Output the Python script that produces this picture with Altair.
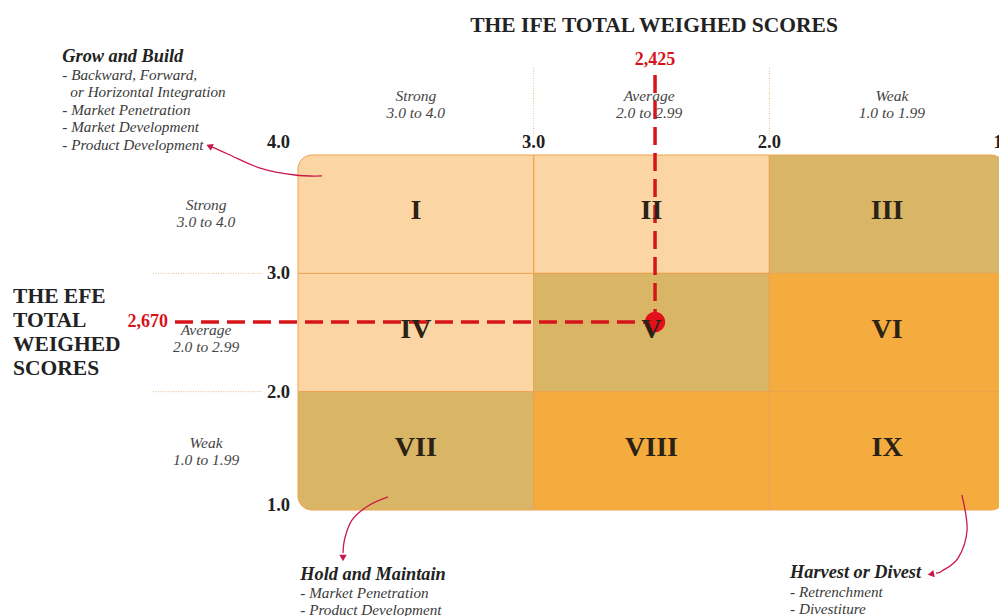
import altair as alt
import pandas as pd

# ---------------- data ----------------
# IE matrix cells (IFE on x, reversed 4 -> 1 ; EFE on y)
cell_roman = ["I", "II", "III", "IV", "V", "VI", "VII", "VIII", "IX"]
cell_ife_hi = [4, 3, 2, 4, 3, 2, 4, 3, 2]
cell_ife_lo = [3, 2, 1, 3, 2, 1, 3, 2, 1]
cell_efe_hi = [4, 4, 4, 3, 3, 3, 2, 2, 2]
cell_efe_lo = [3, 3, 3, 2, 2, 2, 1, 1, 1]
cell_zone = ["grow", "grow", "hold", "grow", "hold", "harvest", "hold", "harvest", "harvest"]

zone_names = ["grow", "hold", "harvest"]
zone_colors = ["#FBD6A4", "#D9B666", "#F5AC3E"]

# company position (as drawn) and its labels
ife_score = [2.485]
efe_score = [2.589]
ife_label = ["2,425"]
efe_label = ["2,670"]
guide_start_efe = [4.676]   # top end of vertical dashed guide
guide_start_ife = [4.522]   # left end of horizontal dashed guide

# tick labels
top_tick_text = ["4.0", "3.0", "2.0", "1.0"]
top_tick_pos = [4.083, 3.0, 2.0, 1.0]
left_tick_text = ["3.0", "2.0", "1.0"]
left_tick_pos = [3.0, 2.0, 1.04]

# band labels (position of first line)
band_text = ["Strong\n3.0 to 4.0", "Average\n2.0 to 2.99", "Weak\n1.0 to 1.99"]
col_band_pos = [3.5, 2.51, 1.48]
row_band_pos = [3.577, 2.521, 1.566]

# titles
top_title = ["THE IFE TOTAL WEIGHED SCORES"]
left_title = ["THE EFE\nTOTAL\nWEIGHED\nSCORES"]

# strategy annotations
ann_head = ["Grow and Build", "Hold and Maintain", "Harvest or Divest"]
ann_head_x = [5.0, 3.99, 1.912]
ann_head_y = [4.828, 0.451, 0.468]
ann_body = [
    "- Backward, Forward,",
    "or Horizontal Integration",
    "- Market Penetration\n- Market Development\n- Product Development",
    "- Market Penetration\n- Product Development",
    "- Retrenchment\n- Divestiture",
]
ann_body_x = [5.0, 4.966, 5.0, 3.99, 1.912]
ann_body_y = [4.676, 4.529, 4.382, 0.298, 0.307]

# curved arrows (annotation connectors)
arrow_id = ["g"] * 5 + ["h"] * 5 + ["d"] * 5
arrow_ord = [0, 1, 2, 3, 4] * 3
arrow_x = [3.898, 4.013, 4.161, 4.289, 4.365,
           3.618, 3.703, 3.771, 3.801, 3.809,
           1.183, 1.161, 1.199, 1.267, 1.293]
arrow_y = [3.823, 3.831, 3.890, 4.000, 4.068,
           1.110, 1.034, 0.915, 0.763, 0.637,
           1.127, 0.831, 0.594, 0.485, 0.468]
head_x = [4.372, 3.809, 1.310]
head_y = [4.072, 0.603, 0.459]
head_angle = [294, 180, 259]

# ---------------- tables ----------------
cells = pd.DataFrame({
    "roman": cell_roman, "x": cell_ife_hi, "x2": cell_ife_lo,
    "y": cell_efe_hi, "y2": cell_efe_lo, "zone": cell_zone,
})
cells["cx"] = (cells["x"] + cells["x2"]) / 2
cells["cy"] = (cells["y"] + cells["y2"]) / 2

pos = pd.DataFrame({"ife": ife_score, "efe": efe_score, "ife_label": ife_label,
                    "efe_label": efe_label, "top": guide_start_efe, "left": guide_start_ife})

FONT = "Liberation Serif"
xs = alt.Scale(domain=[4, 1], range=[0, 707], nice=False, zero=False)
ys = alt.Scale(domain=[1, 4], nice=False, zero=False)
X = lambda f: alt.X(f, type="quantitative", scale=xs, axis=None)
Y = lambda f: alt.Y(f, type="quantitative", scale=ys, axis=None)
color = alt.Color("zone:N", scale=alt.Scale(domain=zone_names, range=zone_colors), legend=None)

R = 14


def cell_layer(names, **corner):
    return (alt.Chart(cells)
            .transform_filter(alt.FieldOneOfPredicate(field="roman", oneOf=names))
            .mark_rect(stroke="#EFA24F", strokeWidth=1, **corner)
            .encode(x=X("x"), x2="x2", y=Y("y"), y2="y2", color=color))


layers = [
    cell_layer(["II", "IV", "V", "VI", "VIII"]),
    cell_layer(["I"], cornerRadiusTopLeft=R),
    cell_layer(["III"], cornerRadiusTopRight=R),
    cell_layer(["VII"], cornerRadiusBottomLeft=R),
    cell_layer(["IX"], cornerRadiusBottomRight=R),
]

# dotted separators outside the grid
vsep = pd.DataFrame({"x": [3, 2], "y": [4.735] * 2, "y2": [4.144] * 2})
hsep = pd.DataFrame({"y": [3, 2], "x": [4.615] * 2, "x2": [4.153] * 2})
layers.append(alt.Chart(vsep).mark_rule(color="#E9B88A", strokeDash=[1, 1.5], strokeWidth=1)
              .encode(x=X("x"), y=Y("y"), y2="y2"))
layers.append(alt.Chart(hsep).mark_rule(color="#E9B88A", strokeDash=[1, 1.5], strokeWidth=1)
              .encode(y=Y("y"), x=X("x"), x2="x2"))

RED = "#D7141A"
# dashed guides
layers.append(alt.Chart(pos).mark_rule(color=RED, strokeDash=[18, 8], strokeWidth=3.5)
              .encode(x=X("ife"), y=Y("top"), y2="efe"))
layers.append(alt.Chart(pos).mark_rule(color=RED, strokeDash=[18, 8], strokeWidth=3.5)
              .encode(y=Y("efe"), x=X("left"), x2="ife"))
layers.append(alt.Chart(pos).mark_point(filled=True, color="#E3101C", size=420, opacity=1)
              .encode(x=X("ife"), y=Y("efe")))

# roman numerals
layers.append(alt.Chart(cells).mark_text(font=FONT, fontSize=28, fontWeight="bold", color="#2B2216",
                                         dy=-3, baseline="middle")
              .encode(x=X("cx"), y=Y("cy"), text="roman:N"))

# red value labels
layers.append(alt.Chart(pos).transform_calculate(yy="4.803").mark_text(
    font=FONT, fontSize=18, fontWeight="bold", color=RED, baseline="middle")
    .encode(x=X("ife"), y=Y("yy"), text="ife_label:N"))
layers.append(alt.Chart(pos).transform_calculate(xx="4.552").mark_text(
    font=FONT, fontSize=18, fontWeight="bold", color=RED, baseline="middle", align="right")
    .encode(x=X("xx"), y=Y("efe"), text="efe_label:N"))

# tick labels
top_ticks = pd.DataFrame({"t": top_tick_text, "x": top_tick_pos, "y": [4.11] * 4})
left_ticks = pd.DataFrame({"t": left_tick_text, "y": left_tick_pos, "x": [4.083] * 3})
for df in (top_ticks, left_ticks):
    layers.append(alt.Chart(df).mark_text(font=FONT, fontSize=18.5, fontWeight="bold", color="#222222",
                                          baseline="middle")
                  .encode(x=X("x"), y=Y("y"), text="t:N"))

# band labels
col_bands = pd.DataFrame({"t": band_text, "x": col_band_pos, "y": [4.499] * 3})
row_bands = pd.DataFrame({"t": band_text, "y": row_band_pos, "x": [4.39] * 3})
for df in (col_bands, row_bands):
    layers.append(alt.Chart(df).mark_text(font=FONT, fontSize=15.5, fontStyle="italic", color="#444444",
                                          baseline="middle", lineBreak="\n", lineHeight=17)
                  .encode(x=X("x"), y=Y("y"), text="t:N"))

# titles
tt = pd.DataFrame({"t": top_title, "x": [2.489], "y": [5.09]})
lt = pd.DataFrame({"t": left_title, "x": [5.209], "y": [2.800]})
layers.append(alt.Chart(tt).mark_text(font=FONT, fontSize=21.5, fontWeight="bold", color="#222222",
                                      baseline="middle")
              .encode(x=X("x"), y=Y("y"), text="t:N"))
layers.append(alt.Chart(lt).mark_text(font=FONT, fontSize=21.5, fontWeight="bold", color="#222222",
                                      baseline="middle", align="left", lineBreak="\n", lineHeight=24)
              .encode(x=X("x"), y=Y("y"), text="t:N"))

# strategy annotations
ah = pd.DataFrame({"t": ann_head, "x": ann_head_x, "y": ann_head_y})
ab = pd.DataFrame({"t": ann_body, "x": ann_body_x, "y": ann_body_y})
layers.append(alt.Chart(ah).mark_text(font=FONT, fontSize=18.3, fontWeight="bold", fontStyle="italic",
                                      color="#222222", baseline="middle", align="left")
              .encode(x=X("x"), y=Y("y"), text="t:N"))
layers.append(alt.Chart(ab).mark_text(font=FONT, fontSize=15.2, fontStyle="italic", color="#3A3A3A",
                                      baseline="middle", align="left", lineBreak="\n", lineHeight=17.4)
              .encode(x=X("x"), y=Y("y"), text="t:N"))

# connectors
arr = pd.DataFrame({"id": arrow_id, "o": arrow_ord, "x": arrow_x, "y": arrow_y})
heads = pd.DataFrame({"x": head_x, "y": head_y, "a": head_angle})
CRIMSON = "#C8194C"
layers.append(alt.Chart(arr).mark_line(color=CRIMSON, strokeWidth=1.3, interpolate="cardinal")
              .encode(x=X("x"), y=Y("y"), detail="id:N", order="o:Q"))
layers.append(alt.Chart(heads).mark_point(shape="triangle", filled=True, color=CRIMSON, size=55, opacity=1)
              .encode(x=X("x"), y=Y("y"), angle=alt.Angle("a:Q", scale=None)))

chart = alt.layer(*layers).properties(
    width=701, height=355,
    padding={"left": 290, "top": 147, "right": 0, "bottom": 106},
    autosize=alt.AutoSizeParams(type="none"),
).configure_view(stroke=None)

chart.save("out.html", embed_options={"renderer": "svg", "actions": False})
